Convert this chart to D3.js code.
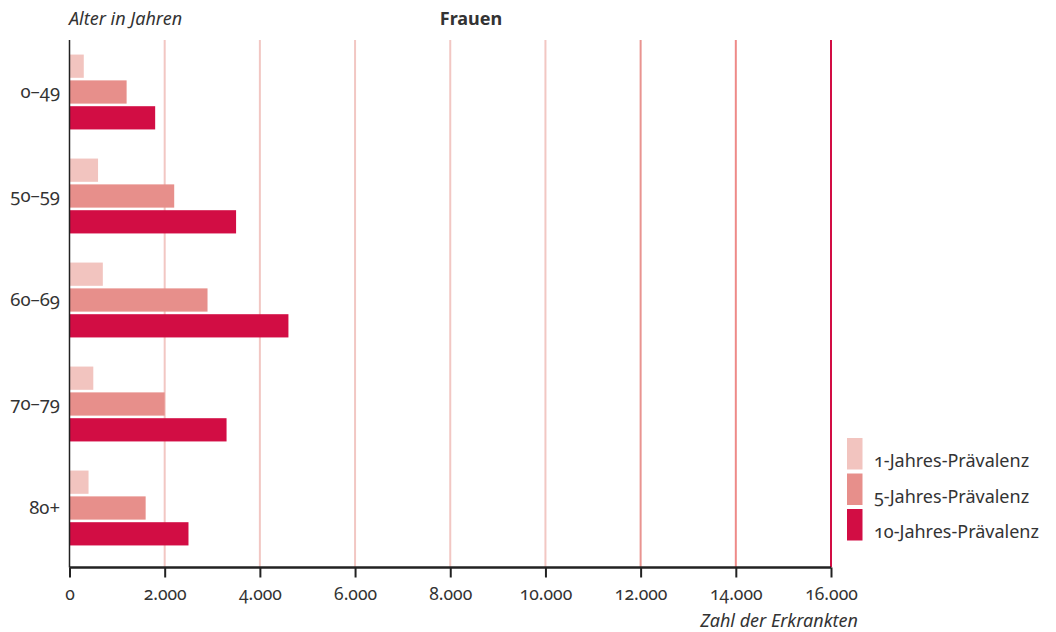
<!DOCTYPE html>
<html><head><meta charset="utf-8">
<script src="https://cdn.jsdelivr.net/npm/d3@7"></script>
<style>
body{margin:0;background:#fff;}
text{font-family:"Noto Sans","Open Sans",sans-serif;fill:#333;font-variant-numeric:oldstyle-nums;}
</style></head><body>
<svg id="c" width="1056" height="632"></svg>
<script>
const categories = ["0–49","50–59","60–69","70–79","80+"];
const seriesNames = ["1-Jahres-Prävalenz","5-Jahres-Prävalenz","10-Jahres-Prävalenz"];
const prev1 = [300, 600, 700, 500, 400];
const prev5 = [1200, 2200, 2900, 2000, 1600];
const prev10 = [1800, 3500, 4600, 3300, 2500];
const tickValues = [0,2000,4000,6000,8000,10000,12000,14000,16000];
const colors = ["#f2c4bf","#e78f8b","#d20d44"];
const gridColors = {2000:"#f2c7c3",4000:"#f2c7c3",6000:"#f2c7c3",8000:"#f2c7c3",10000:"#f2c7c3",12000:"#e99490",14000:"#ee8a88",16000:"#d20d44"};

const series = [prev1, prev5, prev10];
const svg = d3.select("#c");
const x = d3.scaleLinear().domain([0,16000]).range([69.5,831]);
const y = d3.scaleBand().domain(categories).range([40,560]).paddingInner(0.28).paddingOuter(0.14);
const yi = d3.scaleBand().domain([0,1,2]).range([0,y.bandwidth()]).paddingInner(0.1);
const axisY = 567.5;

// gridlines
svg.append("g").selectAll("line").data(tickValues.filter(d=>d>0)).join("line")
  .attr("x1",d=>x(d)).attr("x2",d=>x(d)).attr("y1",40).attr("y2",axisY)
  .attr("stroke",d=>gridColors[d]).attr("stroke-width",2);

// bars
categories.forEach((c,i)=>{
  series.forEach((s,j)=>{
    svg.append("rect").attr("x",x(0)).attr("y",y(c)+yi(j))
      .attr("width",x(s[i])-x(0)).attr("height",yi.bandwidth()).attr("fill",colors[j]);
  });
});

// y axis line
svg.append("line").attr("x1",69.5).attr("x2",69.5).attr("y1",40).attr("y2",axisY).attr("stroke","#222").attr("stroke-width",1.5);

// y labels
svg.append("g").selectAll("text").data(categories).join("text")
  .attr("x",60).attr("y",d=>y(d)+y.bandwidth()/2).attr("dy","0.35em")
  .attr("text-anchor","end").attr("font-size",18.5).text(d=>d);

// x axis
const xAxis = d3.axisBottom(x).tickValues(tickValues).tickSize(10).tickPadding(10)
  .tickFormat(d=>d3.format(",")(d).replace(/,/g,"."));
const gx = svg.append("g").attr("transform",`translate(0,${axisY})`).call(xAxis);
gx.select(".domain").attr("stroke","#222").attr("stroke-width",2.5).attr("d",`M${x(0)},0H${x(16000)}`);
gx.selectAll(".tick line").attr("stroke","#222").attr("stroke-width",2);
gx.selectAll(".tick text").attr("font-size",17.5).attr("fill","#333").attr("font-family","'Noto Sans','Open Sans',sans-serif");

// titles
svg.append("text").attr("x",69).attr("y",25).attr("font-size",18).attr("font-style","italic").text("Alter in Jahren");
svg.append("text").attr("x",471).attr("y",25).attr("text-anchor","middle").attr("font-size",18).attr("font-weight","bold").text("Frauen");
svg.append("text").attr("x",858).attr("y",627).attr("text-anchor","end").attr("font-size",18).attr("font-style","italic").text("Zahl der Erkrankten");

// legend
const lg = svg.append("g").attr("transform","translate(847,438)");
seriesNames.forEach((n,i)=>{
  lg.append("rect").attr("x",0).attr("y",i*35.5).attr("width",15.5).attr("height",31.5).attr("fill",colors[i]);
  lg.append("text").attr("x",27).attr("y",i*35.5+29).attr("font-size",18).text(n);
});
</script></body></html>
